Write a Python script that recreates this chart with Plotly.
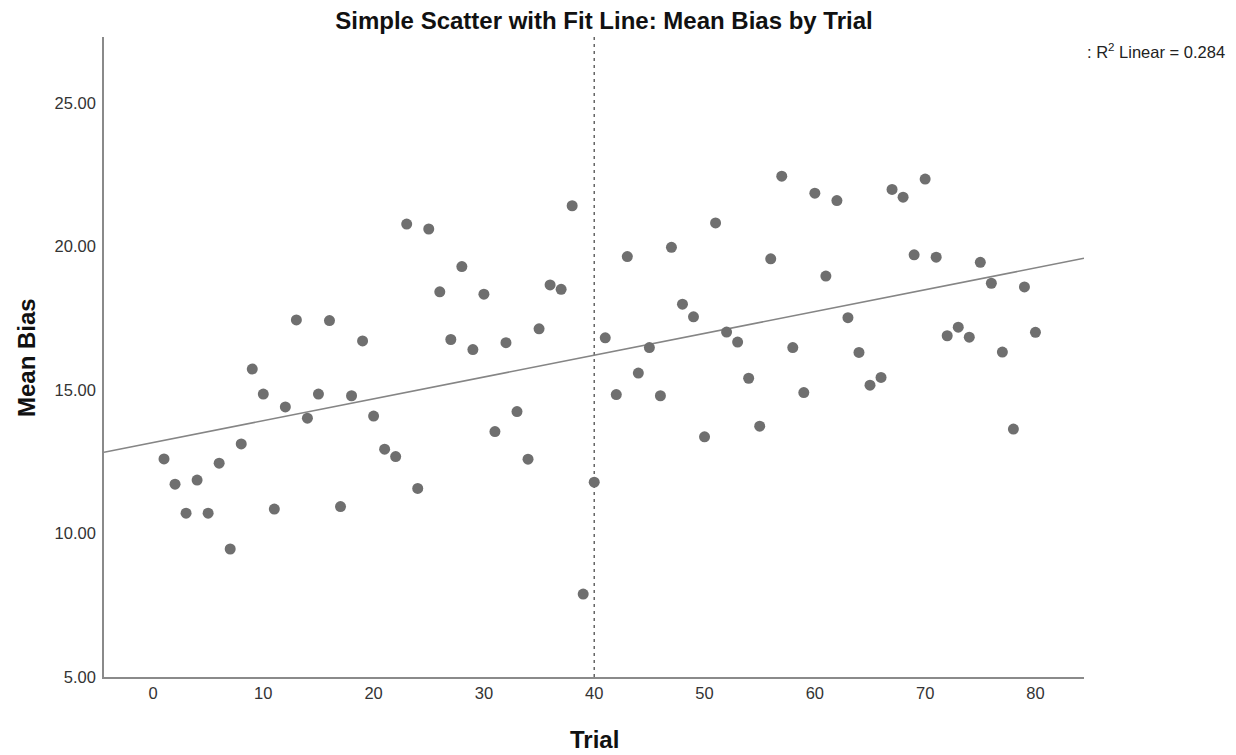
import numpy as np
import plotly.graph_objects as go

# Trial numbers and the mean bias recorded for each trial
trials = list(range(1, 81))
mean_bias = [
    12.60, 11.72, 10.71, 11.86, 10.71, 12.45, 9.46, 13.12, 15.73, 14.86,
    10.85, 14.41, 17.44, 14.02, 14.86, 17.42, 10.94, 14.80, 16.71, 14.09,
    12.94, 12.68, 20.78, 11.57, 20.61, 18.42, 16.76, 19.30, 16.41, 18.34,
    13.55, 16.65, 14.25, 12.59, 17.13, 18.66, 18.51, 21.42, 7.89, 11.79,
    16.82, 14.84, 19.65, 15.59, 16.48, 14.80, 19.97, 17.99, 17.55, 13.37,
    20.82, 17.02, 16.67, 15.41, 13.74, 19.57, 22.45, 16.48, 14.91, 21.86,
    18.97, 21.60, 17.52, 16.31, 15.17, 15.44, 21.99, 21.72, 19.71, 22.35,
    19.63, 16.89, 17.19, 16.84, 19.45, 18.72, 16.32, 13.64, 18.59, 17.01,
]

x_ticks = [0, 10, 20, 30, 40, 50, 60, 70, 80]
y_ticks = [5, 10, 15, 20, 25]
y_tick_labels = ["5.00", "10.00", "15.00", "20.00", "25.00"]
reference_trial = 40
r2_text = ": R<sup>2</sup> Linear = 0.284"

x_range = [-4.44, 84.4]
y_range = [5.0, 27.3]

# Least-squares line across the whole x range
slope, intercept = np.polyfit(trials, mean_bias, 1)
fit_x = np.array(x_range)
fit_y = intercept + slope * fit_x

font_family = "Liberation Sans, Arial, sans-serif"
axis_color = "#8a8a8a"
label_size = 16.5
title_size = 24

fig = go.Figure()

fig.add_trace(go.Scatter(
    x=fit_x, y=fit_y, mode="lines",
    line=dict(color="#858585", width=1.6),
    hoverinfo="skip", showlegend=False,
))

fig.add_trace(go.Scatter(
    x=trials, y=mean_bias, mode="markers",
    marker=dict(size=11, color="#6f6f6f", line=dict(width=0)),
    showlegend=False,
))

fig.add_shape(
    type="line", xref="x", yref="paper",
    x0=reference_trial, x1=reference_trial, y0=0, y1=1,
    line=dict(color="#5a5a5a", width=1.4, dash="3px,4px"),
    layer="below",
)

# Fit statistic in the top-right corner
fig.add_annotation(
    text=r2_text, xref="paper", yref="paper",
    x=1.001, y=0.978, xanchor="left", yanchor="middle",
    showarrow=False,
    font=dict(family=font_family, size=label_size, color="#222222"),
)

# Axis titles
fig.add_annotation(
    text="<b>Trial</b>", xref="paper", yref="paper",
    x=0.5, y=-0.097, xanchor="center", yanchor="middle",
    showarrow=False,
    font=dict(family=font_family, size=title_size, color="#111111"),
)
fig.add_annotation(
    text="<b>Mean Bias</b>", xref="paper", yref="paper",
    x=-0.0796, y=0.5, xanchor="center", yanchor="middle", textangle=-90,
    showarrow=False,
    font=dict(family=font_family, size=title_size, color="#111111"),
)

fig.update_layout(
    width=1236, height=755,
    margin=dict(l=104, r=152, t=37, b=78),
    paper_bgcolor="white", plot_bgcolor="white",
    font=dict(family=font_family, color="#222222"),
    title=dict(
        text="<b>Simple Scatter with Fit Line: Mean Bias by Trial</b>",
        x=604 / 1236, xanchor="center", y=1 - 21 / 755, yanchor="middle",
        font=dict(size=title_size, color="#111111"),
    ),
    xaxis=dict(
        range=x_range, tickmode="array", tickvals=x_ticks,
        showgrid=False, zeroline=False, showline=True,
        linecolor=axis_color, linewidth=1.6, ticks="", ticklen=0,
        tickfont=dict(size=label_size, color="#333333"),
    ),
    yaxis=dict(
        range=y_range, tickmode="array", tickvals=y_ticks, ticktext=y_tick_labels,
        showgrid=False, zeroline=False, showline=True,
        linecolor=axis_color, linewidth=1.6, ticks="", ticklen=0,
        ticklabelstandoff=3,
        tickfont=dict(size=label_size, color="#333333"),
    ),
)

fig.write_html("out.html")
